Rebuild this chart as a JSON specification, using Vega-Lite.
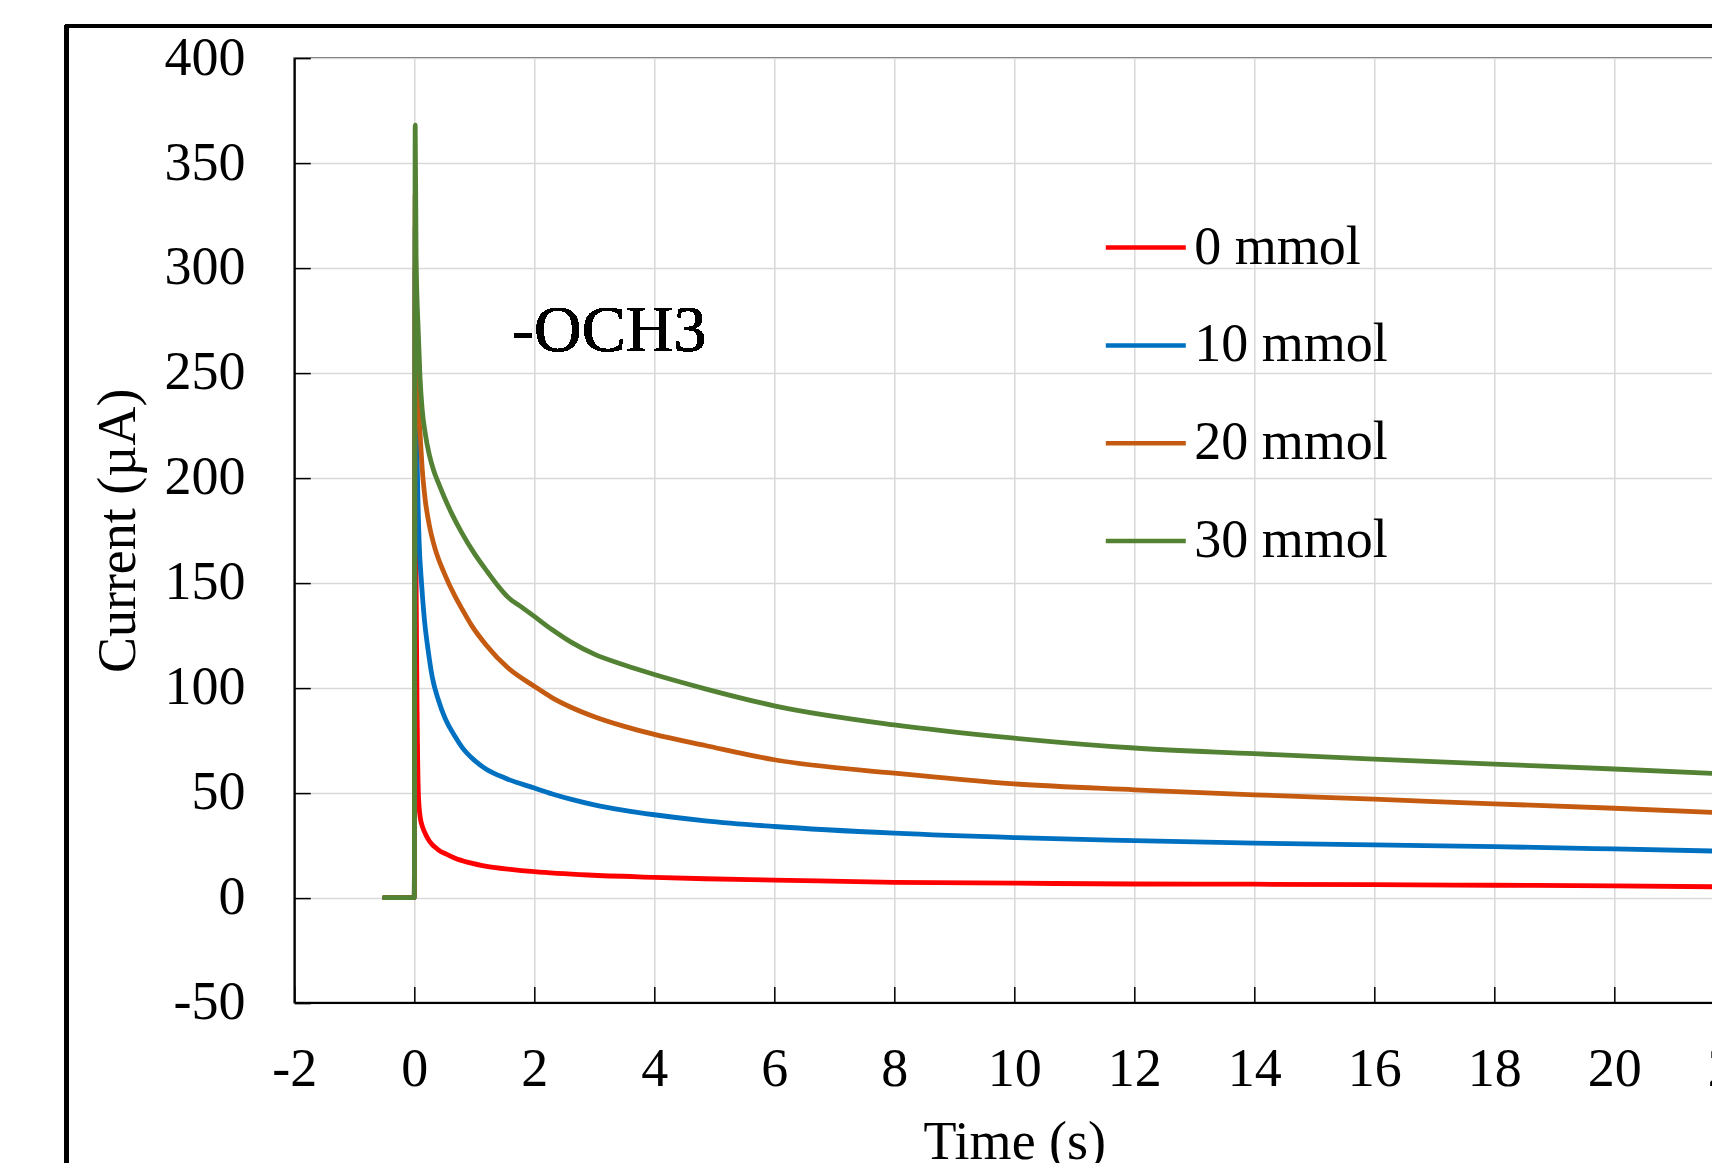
{
  "$schema": "https://vega.github.io/schema/vega-lite/v6.json",
  "width": 1440,
  "height": 944.5,
  "autosize": {"type": "none"},
  "padding": {"left": 294.3, "top": 58.1, "right": -22.3, "bottom": 160.4},
  "background": "white",
  "config": {
    "view": {"stroke": "#333333", "strokeWidth": 1.75},
    "font": "Liberation Serif"
  },
  "data": {"values": [
    {"t": -0.5, "i": 0, "s": "0 mmol"}, {"t": 0, "i": 0, "s": "0 mmol"}, {"t": 0.015, "i": 300, "s": "0 mmol"}, {"t": 0.03, "i": 150, "s": "0 mmol"}, {"t": 0.05, "i": 80, "s": "0 mmol"}, {"t": 0.07, "i": 48, "s": "0 mmol"}, {"t": 0.1, "i": 38, "s": "0 mmol"}, {"t": 0.14, "i": 33.5, "s": "0 mmol"}, {"t": 0.18, "i": 30.7, "s": "0 mmol"}, {"t": 0.25, "i": 27, "s": "0 mmol"}, {"t": 0.4, "i": 22.8, "s": "0 mmol"}, {"t": 0.55, "i": 20.5, "s": "0 mmol"}, {"t": 0.68, "i": 18.8, "s": "0 mmol"}, {"t": 0.9, "i": 16.8, "s": "0 mmol"}, {"t": 1.23, "i": 14.8, "s": "0 mmol"}, {"t": 1.6, "i": 13.5, "s": "0 mmol"}, {"t": 2, "i": 12.4, "s": "0 mmol"}, {"t": 2.9, "i": 10.8, "s": "0 mmol"}, {"t": 4, "i": 9.7, "s": "0 mmol"}, {"t": 4.85, "i": 9.0, "s": "0 mmol"}, {"t": 6, "i": 8.4, "s": "0 mmol"}, {"t": 8, "i": 7.3, "s": "0 mmol"}, {"t": 10, "i": 6.9, "s": "0 mmol"}, {"t": 12, "i": 6.5, "s": "0 mmol"}, {"t": 14, "i": 6.4, "s": "0 mmol"}, {"t": 16, "i": 6.2, "s": "0 mmol"}, {"t": 18, "i": 5.9, "s": "0 mmol"}, {"t": 20, "i": 5.6, "s": "0 mmol"}, {"t": 22, "i": 5.1, "s": "0 mmol"},
    {"t": -0.5, "i": 0, "s": "10 mmol"}, {"t": 0, "i": 0, "s": "10 mmol"}, {"t": 0.015, "i": 320, "s": "10 mmol"}, {"t": 0.03, "i": 250, "s": "10 mmol"}, {"t": 0.05, "i": 205, "s": "10 mmol"}, {"t": 0.08, "i": 170, "s": "10 mmol"}, {"t": 0.12, "i": 150, "s": "10 mmol"}, {"t": 0.17, "i": 132, "s": "10 mmol"}, {"t": 0.23, "i": 118, "s": "10 mmol"}, {"t": 0.3, "i": 105, "s": "10 mmol"}, {"t": 0.4, "i": 94.3, "s": "10 mmol"}, {"t": 0.52, "i": 85, "s": "10 mmol"}, {"t": 0.68, "i": 76.8, "s": "10 mmol"}, {"t": 0.8, "i": 71.5, "s": "10 mmol"}, {"t": 0.96, "i": 66.5, "s": "10 mmol"}, {"t": 1.2, "i": 61.2, "s": "10 mmol"}, {"t": 1.51, "i": 57, "s": "10 mmol"}, {"t": 2, "i": 52.2, "s": "10 mmol"}, {"t": 2.3, "i": 49.4, "s": "10 mmol"}, {"t": 2.62, "i": 46.8, "s": "10 mmol"}, {"t": 3, "i": 44.2, "s": "10 mmol"}, {"t": 3.5, "i": 41.6, "s": "10 mmol"}, {"t": 4, "i": 39.5, "s": "10 mmol"}, {"t": 4.85, "i": 36.6, "s": "10 mmol"}, {"t": 6, "i": 33.9, "s": "10 mmol"}, {"t": 8, "i": 30.7, "s": "10 mmol"}, {"t": 10, "i": 28.6, "s": "10 mmol"}, {"t": 12, "i": 27.2, "s": "10 mmol"}, {"t": 14, "i": 26.0, "s": "10 mmol"}, {"t": 16, "i": 25.1, "s": "10 mmol"}, {"t": 18, "i": 24.3, "s": "10 mmol"}, {"t": 20, "i": 23.2, "s": "10 mmol"}, {"t": 22, "i": 22.0, "s": "10 mmol"},
    {"t": -0.5, "i": 0, "s": "20 mmol"}, {"t": 0, "i": 0, "s": "20 mmol"}, {"t": 0.015, "i": 335, "s": "20 mmol"}, {"t": 0.025, "i": 290, "s": "20 mmol"}, {"t": 0.04, "i": 250, "s": "20 mmol"}, {"t": 0.07, "i": 232, "s": "20 mmol"}, {"t": 0.095, "i": 221.6, "s": "20 mmol"}, {"t": 0.13, "i": 205, "s": "20 mmol"}, {"t": 0.18, "i": 190, "s": "20 mmol"}, {"t": 0.25, "i": 177.5, "s": "20 mmol"}, {"t": 0.35, "i": 165.9, "s": "20 mmol"}, {"t": 0.5, "i": 154.5, "s": "20 mmol"}, {"t": 0.68, "i": 143.5, "s": "20 mmol"}, {"t": 0.8, "i": 137.3, "s": "20 mmol"}, {"t": 0.96, "i": 129.5, "s": "20 mmol"}, {"t": 1.2, "i": 120.3, "s": "20 mmol"}, {"t": 1.56, "i": 109.5, "s": "20 mmol"}, {"t": 2, "i": 100.7, "s": "20 mmol"}, {"t": 2.3, "i": 95.2, "s": "20 mmol"}, {"t": 2.62, "i": 90.6, "s": "20 mmol"}, {"t": 3, "i": 86.2, "s": "20 mmol"}, {"t": 3.5, "i": 81.6, "s": "20 mmol"}, {"t": 4, "i": 77.8, "s": "20 mmol"}, {"t": 4.85, "i": 72.5, "s": "20 mmol"}, {"t": 6, "i": 65.7, "s": "20 mmol"}, {"t": 8, "i": 59.3, "s": "20 mmol"}, {"t": 10, "i": 54.2, "s": "20 mmol"}, {"t": 12, "i": 51.4, "s": "20 mmol"}, {"t": 14, "i": 49.0, "s": "20 mmol"}, {"t": 16, "i": 46.9, "s": "20 mmol"}, {"t": 18, "i": 44.7, "s": "20 mmol"}, {"t": 20, "i": 42.6, "s": "20 mmol"}, {"t": 22, "i": 40.2, "s": "20 mmol"},
    {"t": -0.5, "i": 0, "s": "30 mmol"}, {"t": 0, "i": 0, "s": "30 mmol"}, {"t": 0.015, "i": 368, "s": "30 mmol"}, {"t": 0.03, "i": 305, "s": "30 mmol"}, {"t": 0.067, "i": 269, "s": "30 mmol"}, {"t": 0.095, "i": 248, "s": "30 mmol"}, {"t": 0.13, "i": 233, "s": "30 mmol"}, {"t": 0.18, "i": 221.6, "s": "30 mmol"}, {"t": 0.25, "i": 211, "s": "30 mmol"}, {"t": 0.32, "i": 203.8, "s": "30 mmol"}, {"t": 0.4, "i": 197.7, "s": "30 mmol"}, {"t": 0.5, "i": 190.8, "s": "30 mmol"}, {"t": 0.62, "i": 183.2, "s": "30 mmol"}, {"t": 0.79, "i": 173.9, "s": "30 mmol"}, {"t": 1.0, "i": 164, "s": "30 mmol"}, {"t": 1.23, "i": 154.8, "s": "30 mmol"}, {"t": 1.4, "i": 148.4, "s": "30 mmol"}, {"t": 1.56, "i": 143.2, "s": "30 mmol"}, {"t": 1.8, "i": 138.2, "s": "30 mmol"}, {"t": 2, "i": 134, "s": "30 mmol"}, {"t": 2.3, "i": 127.6, "s": "30 mmol"}, {"t": 2.62, "i": 121.6, "s": "30 mmol"}, {"t": 3, "i": 116, "s": "30 mmol"}, {"t": 3.5, "i": 110.8, "s": "30 mmol"}, {"t": 4, "i": 106.3, "s": "30 mmol"}, {"t": 4.85, "i": 99.5, "s": "30 mmol"}, {"t": 6, "i": 91.4, "s": "30 mmol"}, {"t": 8, "i": 82.3, "s": "30 mmol"}, {"t": 10, "i": 76.0, "s": "30 mmol"}, {"t": 12, "i": 71.3, "s": "30 mmol"}, {"t": 14, "i": 68.6, "s": "30 mmol"}, {"t": 16, "i": 66.0, "s": "30 mmol"}, {"t": 18, "i": 63.6, "s": "30 mmol"}, {"t": 20, "i": 61.3, "s": "30 mmol"}, {"t": 22, "i": 58.7, "s": "30 mmol"}
  ]},
  "layer": [
    {
      "mark": {"type": "line", "strokeWidth": 4.8, "interpolate": "monotone", "strokeJoin": "round", "strokeCap": "round"},
      "encoding": {
        "x": {
          "field": "t", "type": "quantitative",
          "scale": {"domain": [-2, 22], "nice": false, "zero": false},
          "axis": {
            "title": "Time (s)",
            "values": [-2, 0, 2, 4, 6, 8, 10, 12, 14, 16, 18, 20, 22],
            "labelExpr": "'' + datum.value",
            "labelFont": "Liberation Serif", "labelFontSize": 54, "labelColor": "black",
            "labelPadding": 55.7, "labelFlush": false, "labelOverlap": false, "labelBound": false,
            "tickSize": -16, "tickColor": "black", "tickWidth": 1.5,
            "domainColor": "black", "domainWidth": 2,
            "grid": true, "gridColor": "#d9d9d9", "gridWidth": 1.5,
            "titleFont": "Liberation Serif", "titleFontSize": 54, "titleFontWeight": "normal", "titleColor": "black",
            "titleX": 720, "titleY": 155.6, "titleBaseline": "alphabetic", "titleAlign": "center"
          }
        },
        "y": {
          "field": "i", "type": "quantitative",
          "scale": {"domain": [-50, 400], "nice": false, "zero": false},
          "axis": {
            "title": "Current (µA)",
            "values": [-50, 0, 50, 100, 150, 200, 250, 300, 350, 400],
            "labelExpr": "'' + datum.value",
            "labelFont": "Liberation Serif", "labelFontSize": 54, "labelColor": "black",
            "labelPadding": 65.3, "labelFlush": false, "labelOverlap": false, "labelBound": false,
            "tickSize": -16, "tickColor": "black", "tickWidth": 1.5,
            "domainColor": "black", "domainWidth": 2,
            "grid": true, "gridColor": "#d9d9d9", "gridWidth": 1.5,
            "titleFont": "Liberation Serif", "titleFontSize": 54, "titleFontWeight": "normal", "titleColor": "black",
            "titleX": -159.3, "titleY": 472.25, "titleAngle": -90, "titleBaseline": "alphabetic", "titleAlign": "center"
          }
        },
        "color": {
          "field": "s", "type": "nominal",
          "scale": {"domain": ["0 mmol", "10 mmol", "20 mmol", "30 mmol"], "range": ["#FF0000", "#0070C0", "#C55A11", "#548235"]},
          "legend": {
            "orient": "none", "legendX": 809, "legendY": 147, "title": null,
            "labelFont": "Liberation Serif", "labelFontSize": 54, "labelColor": "black", "labelLimit": 500,
            "symbolType": "stroke", "symbolSize": 6400, "symbolStrokeWidth": 4.5,
            "labelOffset": 6, "rowPadding": 27.8, "padding": 0
          }
        }
      }
    },
    {
      "mark": {"type": "text", "text": "-OCH3", "align": "left", "baseline": "alphabetic", "font": "Liberation Serif", "fontSize": 66, "color": "black"},
      "encoding": {"x": {"datum": 1.63}, "y": {"datum": 260.5}}
    },
    {
      "mark": {"type": "rect", "filled": false, "stroke": "black", "strokeWidth": 3.5, "clip": false},
      "encoding": {"x": {"datum": -5.793}, "x2": {"datum": 40}, "y": {"datum": 415.3}, "y2": {"datum": -300}}
    }
  ]
}
